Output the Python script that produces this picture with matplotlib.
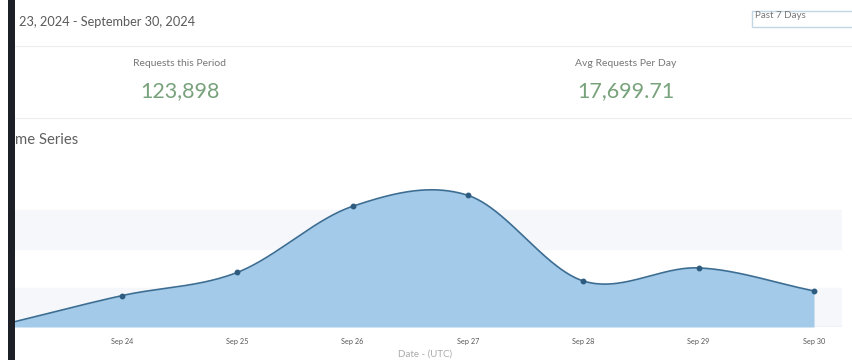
import numpy as np
import matplotlib
matplotlib.use("Agg")
import matplotlib.pyplot as plt
from matplotlib.patches import Rectangle

# ---- data ----
dates = ["Sep 23", "Sep 24", "Sep 25", "Sep 26", "Sep 27", "Sep 28", "Sep 29", "Sep 30"]
requests = [850, 8050, 14000, 30950, 33750, 11800, 15150, 9250]
tick_labels = ["Sep 24", "Sep 25", "Sep 26", "Sep 27", "Sep 28", "Sep 29", "Sep 30"]
period_text = "23, 2024 - September 30, 2024"
kpi_labels = ["Requests this Period", "Avg Requests Per Day"]
kpi_values = ["123,898", "17,699.71"]

plt.rcParams['font.family'] = ['Lato', 'DejaVu Sans']

W, H = 853, 360
fig = plt.figure(figsize=(W / 100, H / 100), dpi=100)
fig.patch.set_facecolor("white")

def fx(px):
    return px / W

def fy(py):
    return 1 - py / H

# ---- header texts ----
fig.text(fx(19), fy(22), period_text, fontsize=9.2, color="#5a5a5a", va="center", ha="left")
# dropdown box
fig.add_artist(Rectangle((fx(752), fy(27)), fx(120), 16 / H, transform=fig.transFigure,
                         facecolor="white", edgecolor="#c3d6e3", lw=1.0))
fig.text(fx(755), fy(16), "Past 7 Days", fontsize=7, color="#777777", va="center", ha="left")

# separators
for yy in (46, 118):
    fig.add_artist(plt.Line2D([fx(15), 1], [fy(yy), fy(yy)], transform=fig.transFigure,
                              color="#ededed", lw=0.8))

kpi_x = [180, 626]
for x, lab, val in zip(kpi_x, kpi_labels, kpi_values):
    fig.text(fx(x), fy(63), lab, fontsize=7.5, color="#777777", ha="center", va="center")
    fig.text(fx(x), fy(91), val, fontsize=15.5, color="#78a27b", ha="center", va="center")

fig.text(fx(15), fy(140), "me Series", fontsize=10.7, color="#606060", ha="left", va="center")

# ---- chart ----
n = len(requests)
x_first, x_last = 6.7, 814
px_per_day = (x_last - x_first) / (n - 1)
ax_left, ax_right, ax_top, ax_bottom = x_first, 842, 171, 327
x_right = (n - 1) + (ax_right - x_last) / px_per_day
ax = fig.add_axes([fx(ax_left), fy(ax_bottom), fx(ax_right - ax_left), (ax_bottom - ax_top) / H])
ax.set_xlim(0, x_right)
ax.set_ylim(0, 40000)
for s in ax.spines.values():
    s.set_visible(False)
ax.set_facecolor("white")
ax.axhspan(0, 10000, color="#f5f7fb", zorder=0)
ax.axhspan(20000, 30000, color="#f5f7fb", zorder=0)
ax.axhline(0, color="#d8e0ea", lw=1.0, zorder=1)

# Catmull-Rom smoothing through the points (rendering only)
xs = np.arange(n, dtype=float)
ys = np.array(requests, dtype=float)
m = np.zeros(n)
m[0] = ys[1] - ys[0]
m[-1] = ys[-1] - ys[-2]
m[1:-1] = (ys[2:] - ys[:-2]) / 2
cx, cy = [], []
t = np.linspace(0, 1, 80)
h00 = 2 * t ** 3 - 3 * t ** 2 + 1
h10 = t ** 3 - 2 * t ** 2 + t
h01 = -2 * t ** 3 + 3 * t ** 2
h11 = t ** 3 - t ** 2
for i in range(n - 1):
    xx = xs[i] + t
    yy = h00 * ys[i] + h10 * m[i] + h01 * ys[i + 1] + h11 * m[i + 1]
    cx.extend(xx[:-1] if i < n - 2 else xx)
    cy.extend(yy[:-1] if i < n - 2 else yy)
cx = np.array(cx)
cy = np.array(cy)

ax.fill_between(cx, 0, cy, color="#a3cae8", lw=0, zorder=2)
ax.plot(cx, cy, color="#3c6d93", lw=1.2, zorder=3)
ax.plot(xs, ys, "o", color="#2e5b80", ms=3.2, zorder=4)

ax.set_yticks([])
ax.set_xticks(xs[1:])
ax.set_xticklabels(tick_labels, fontsize=5.2, color="#555555")
ax.tick_params(axis="x", length=0, pad=8)
fig.text(fx(425), fy(354), "Date - (UTC)", fontsize=7, color="#aaaaaa", ha="center", va="center")

# dark bezel bar on left, white margin beyond it
fig.add_artist(Rectangle((0, 0), fx(8), 1, transform=fig.transFigure,
                         facecolor="white", edgecolor="none", zorder=9))
fig.add_artist(Rectangle((fx(8), 0), fx(7), 1, transform=fig.transFigure,
                         facecolor="#1d1f26", edgecolor="none", zorder=10))

fig.savefig("out.png", dpi=100, facecolor="white")
